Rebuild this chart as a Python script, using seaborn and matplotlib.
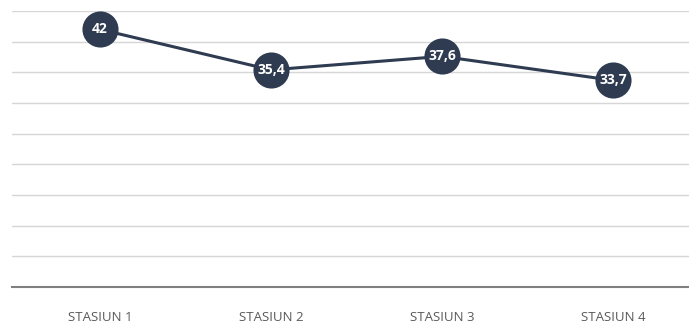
import matplotlib
matplotlib.use("Agg")
import matplotlib.pyplot as plt
import seaborn as sns
import pandas as pd

stations = ["STASIUN 1", "STASIUN 2", "STASIUN 3", "STASIUN 4"]
values = [42, 35.4, 37.6, 33.7]
labels = ["42", "35,4", "37,6", "33,7"]

sns.set_theme(style="white")
plt.rcParams["font.family"] = ["Open Sans", "DejaVu Sans"]

df = pd.DataFrame({"station": stations, "value": values})
navy = "#2E3B50"

fig = plt.figure(figsize=(6.89, 3.28), dpi=100)
ax = fig.add_axes([12 / 689, 1 - 287 / 328, 686.5 / 689, 276 / 328])

sns.lineplot(data=df, x="station", y="value", ax=ax, color=navy, linewidth=2.2,
             marker="o", markersize=26, markeredgewidth=0, sort=False, zorder=3)

for i, (v, t) in enumerate(zip(values, labels)):
    ax.text(i, v, t, ha="center", va="center", color="white", fontsize=10,
            fontweight="bold", zorder=4)

ax.set_xlim(-0.515, 3.5)
ax.set_ylim(0, 45)
ax.set_yticks(range(0, 46, 5))
ax.yaxis.grid(True, color="#D6D6D6", linewidth=1.0)
ax.set_axisbelow(True)
ax.tick_params(axis="y", left=False, labelleft=False)
ax.tick_params(axis="x", bottom=False, labelsize=9.5, labelcolor="#595959", pad=11.5)
ax.set_xlabel("")
ax.set_ylabel("")
for s in ["top", "right", "left"]:
    ax.spines[s].set_visible(False)
ax.spines["bottom"].set_color("#808080")
ax.spines["bottom"].set_linewidth(1.5)

fig.savefig("out.png", dpi=100)
